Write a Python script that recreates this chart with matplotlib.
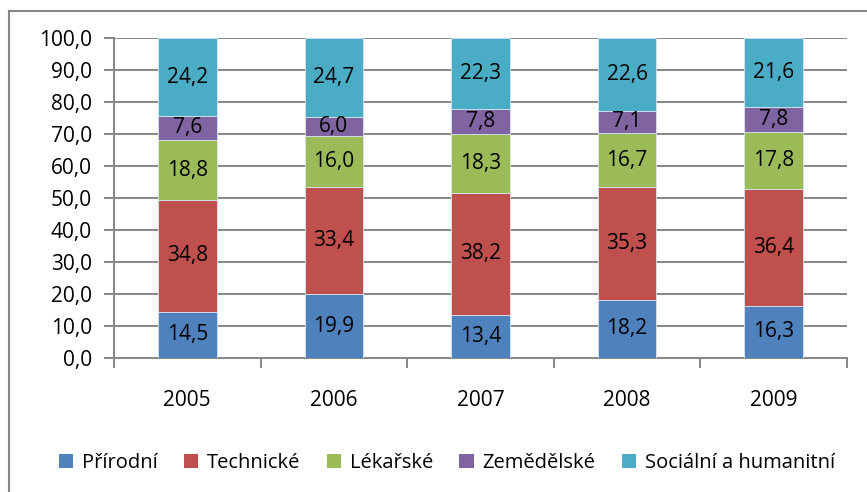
import matplotlib
matplotlib.use("Agg")
import matplotlib.pyplot as plt
from matplotlib.lines import Line2D
from matplotlib.patches import Patch
import numpy as np

years = ["2005", "2006", "2007", "2008", "2009"]
series_names = ["Přírodní", "Technické", "Lékařské", "Zemědělské", "Sociální a humanitní"]
prirodni = [14.5, 19.9, 13.4, 18.2, 16.3]
technicke = [34.8, 33.4, 38.2, 35.3, 36.4]
lekarske = [18.8, 16.0, 18.3, 16.7, 17.8]
zemedelske = [7.6, 6.0, 7.8, 7.1, 7.8]
socialni = [24.2, 24.7, 22.3, 22.6, 21.6]
colors = ["#4F81BD", "#C0504D", "#9BBB59", "#8064A2", "#4BACC6"]
yticks = [0, 10, 20, 30, 40, 50, 60, 70, 80, 90, 100]

plt.rcParams['font.family'] = ['Open Sans', 'DejaVu Sans']
FS = 15

W, H = 867, 492
fig = plt.figure(figsize=(W / 100, H / 100), dpi=100)
ax = fig.add_axes([114 / W, 1 - 358 / H, (847 - 114) / W, (358 - 38) / H])

data = [prirodni, technicke, lekarske, zemedelske, socialni]
x = np.arange(len(years))
bottom = np.zeros(len(years))
for vals, col, name in zip(data, colors, series_names):
    vals = np.array(vals)
    ax.bar(x, vals, width=0.4, bottom=bottom, color=col, edgecolor="#D8E4F0",
           linewidth=0.6, label=name, zorder=3)
    for xi, b, v in zip(x, bottom, vals):
        ax.text(xi, b + v / 2, f"{v:.1f}".replace(".", ","), ha="center", va="center",
                fontsize=FS, color="black", zorder=4)
    bottom += vals

ax.set_xlim(-0.5, len(years) - 0.5)
ax.set_ylim(0, 100)
ax.set_yticks(yticks)
ax.set_yticklabels([f"{v:.1f}".replace(".", ",") for v in yticks], fontsize=FS)
ax.yaxis.grid(True, color="#868686", linewidth=1.4, zorder=0)
ax.set_axisbelow(True)
ax.tick_params(axis="y", length=7, width=1.4, color="#868686", pad=9)

ax.set_xticks(x)
ax.set_xticklabels(years, fontsize=FS)
ax.set_xticks(np.arange(-0.5, len(years)), minor=True)
ax.tick_params(axis="x", which="major", length=0, pad=23)
ax.tick_params(axis="x", which="minor", length=7, width=1.4, color="#868686")

for s in ["top", "right"]:
    ax.spines[s].set_visible(False)
for s in ["left", "bottom"]:
    ax.spines[s].set_color("#868686")
    ax.spines[s].set_linewidth(1.4)

# outer chart border
fig.add_artist(Line2D([9 / W, 9 / W], [0, 1 - 11 / H], transform=fig.transFigure,
                      color="#868686", linewidth=1.5))
fig.add_artist(Line2D([9 / W, 1], [1 - 11 / H, 1 - 11 / H], transform=fig.transFigure,
                      color="#868686", linewidth=1.5))

handles = [Patch(facecolor=c, edgecolor="none") for c in colors]
fig.legend(handles, series_names, loc="center", bbox_to_anchor=(447 / W, 1 - 463 / H),
           ncol=5, frameon=False, fontsize=FS - 0.5, handlelength=0.7, handleheight=0.7,
           handletextpad=0.45, columnspacing=1.3)

fig.savefig("out.png", dpi=100)
